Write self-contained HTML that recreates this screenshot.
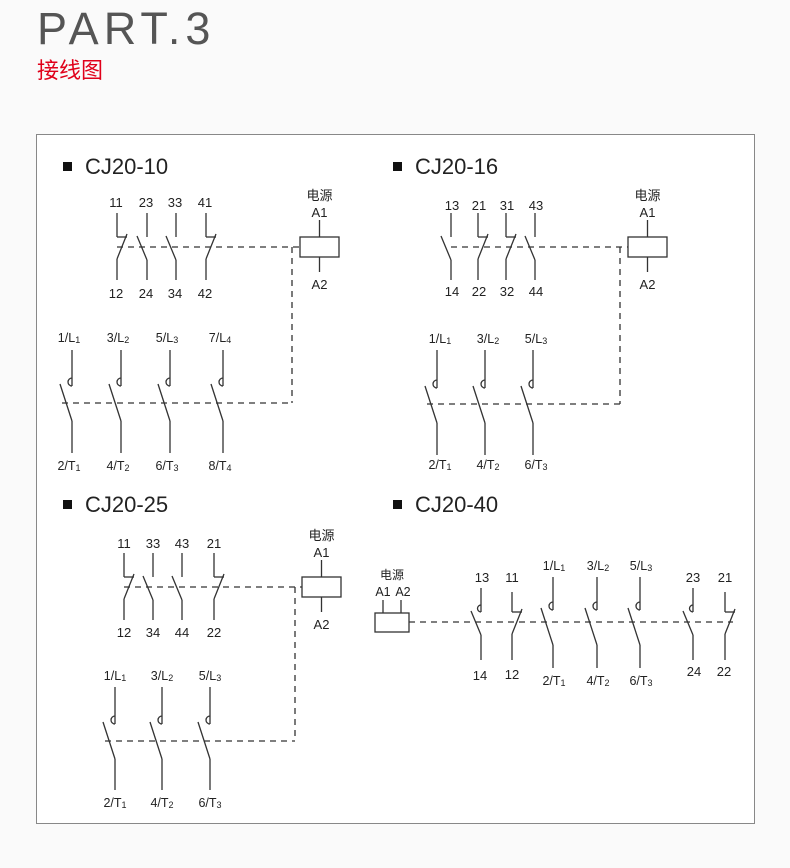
<!DOCTYPE html>
<html><head><meta charset="utf-8"><style>
html,body{margin:0;padding:0;background:#fafafa;width:790px;height:868px;overflow:hidden}
svg{position:absolute;left:0;top:0}
text{font-family:"Liberation Sans","Noto Sans CJK SC",sans-serif;fill:#222}
</style></head><body>
<svg id="s" width="790" height="868" xmlns="http://www.w3.org/2000/svg">
<rect x="36.5" y="134.5" width="718" height="689" fill="#fff" stroke="#888" stroke-width="1"/>
<text x="37" y="44" style="font-size:45px;fill:#555;letter-spacing:5px;font-weight:300">PART.3</text>
<text x="37" y="78" style="font-family:'Noto Sans CJK SC',sans-serif;font-size:22px;fill:#e0001a">接线图</text>
<g id="g" stroke="#333" stroke-width="1.3" fill="none"></g>
<g id="t"></g>
</svg>
<script>
const g=document.getElementById('g'),tg=document.getElementById('t');
const NS='http://www.w3.org/2000/svg';
function el(p,n,a,txt){const e=document.createElementNS(NS,n);for(const k in a)e.setAttribute(k,a[k]);if(txt!==undefined)e.textContent=txt;p.appendChild(e);return e;}
function L(x1,y1,x2,y2,d){const a={x1,y1,x2,y2};if(d)a['stroke-dasharray']='6 5';el(g,'line',a);}
function T(x,y,s,sz){el(tg,'text',{x,y,'text-anchor':'middle','font-size':sz||13},s);}
function TS(x,y,a,sub){const t=el(tg,'text',{x,y,'text-anchor':'middle','font-size':12.5},a);el(t,'tspan',{'font-size':9,dy:1},sub);}
function NO(x,t,a,b,arc){L(x,t,x,a);if(arc)el(g,'path',{d:`M${x} ${a-7} A3.5 3.5 0 0 0 ${x} ${a}`});L(x-10,a-1,x,a+23);L(x,a+23,x,b);}
function NC(x,t,a,b){L(x,t,x,a);L(x,a,x+10,a);L(x+10,a-3,x,a+22);L(x,a+22,x,b);}
function M(x,t,s,b){L(x,t,x,s);el(g,'path',{d:`M${x} ${s-8} A4 4 0 0 0 ${x} ${s}`});L(x-12,s-2,x,s+35);L(x,s+35,x,b);}
function title(x,y,s){el(tg,'rect',{x:x,y:y-12,width:9,height:9,fill:'#111'});el(tg,'text',{x:x+22,y:y,'font-size':22,fill:'#111'},s);}
function coil(x,y){el(g,'rect',{x,y,width:39,height:20});L(x+19.5,y-17,x+19.5,y);L(x+19.5,y+20,x+19.5,y+35);
 el(tg,'text',{x:x+19.5,y:y-37,'text-anchor':'middle','font-size':13,'font-family':'Noto Sans CJK SC,sans-serif',fill:'#444'},'电源');T(x+19.5,y-20,'A1');T(x+19.5,y+52,'A2');}
// Panel 1
title(63,174,'CJ20-10');
NC(117,213,237,280);NO(147,213,237,280);NO(176,213,237,280);NC(206,213,237,280);
[[117,'11','12'],[147,'23','24'],[176,'33','34'],[206,'41','42']].forEach(c=>{T(c[0]-1,207,c[1]);T(c[0]-1,298,c[2]);});
L(117,247,300,247,1);coil(300,237);L(292,247,292,403,1);
[[72,'1/L','1','2/T'],[121,'3/L','2','4/T'],[170,'5/L','3','6/T'],[223,'7/L','4','8/T']].forEach(c=>{M(c[0],350,386,453);TS(c[0]-3,342,c[1],c[2]);TS(c[0]-3,470,c[3],c[2]);});
L(62,403,292,403,1);
// Panel 2
title(393,174,'CJ20-16');
NO(451,213,237,280);NC(478,213,237,280);NC(506,213,237,280);NO(535,213,237,280);
[[451,'13','14'],[478,'21','22'],[506,'31','32'],[535,'43','44']].forEach(c=>{T(c[0]+1,210,c[1]);T(c[0]+1,296,c[2]);});
L(451,247,628,247,1);coil(628,237);L(620,247,620,404,1);
[[437,'1/L','1','2/T'],[485,'3/L','2','4/T'],[533,'5/L','3','6/T']].forEach(c=>{M(c[0],350,388,455);TS(c[0]+3,343,c[1],c[2]);TS(c[0]+3,469,c[3],c[2]);});
L(427,404,620,404,1);
// Panel 3
title(63,512,'CJ20-25');
NC(124,553,577,620);NO(153,553,577,620);NO(182,553,577,620);NC(214,553,577,620);
[[124,'11','12'],[153,'33','34'],[182,'43','44'],[214,'21','22']].forEach(c=>{T(c[0],548,c[1]);T(c[0],637,c[2]);});
L(124,587,302,587,1);coil(302,577);L(295,587,295,741,1);
[[115,'1/L','1','2/T'],[162,'3/L','2','4/T'],[210,'5/L','3','6/T']].forEach(c=>{M(c[0],687,724,790);TS(c[0],680,c[1],c[2]);TS(c[0],807,c[3],c[2]);});
L(105,741,295,741,1);
// Panel 4
title(393,512,'CJ20-40');
el(g,'rect',{x:375,y:613,width:34,height:19});L(383,600,383,613);L(401,600,401,613);
el(tg,'text',{x:392,y:579,'text-anchor':'middle','font-size':12,'font-family':'Noto Sans CJK SC,sans-serif',fill:'#444'},'电源');
T(383,596,'A1',12.5);T(403,596,'A2',12.5);
L(409,622,733,622,1);
NO(481,588,612,660,1);NC(512,592,612,660);NO(693,588,612,660,1);NC(725,592,612,660);
T(482,582,'13');T(512,582,'11');T(480,680,'14');T(512,679,'12');T(693,582,'23');T(725,582,'21');T(694,676,'24');T(724,676,'22');
[[553,'1/L','1','2/T'],[597,'3/L','2','4/T'],[640,'5/L','3','6/T']].forEach(c=>{M(c[0],577,610,668);TS(c[0]+1,570,c[1],c[2]);TS(c[0]+1,685,c[3],c[2]);});
</script>
</body></html>
